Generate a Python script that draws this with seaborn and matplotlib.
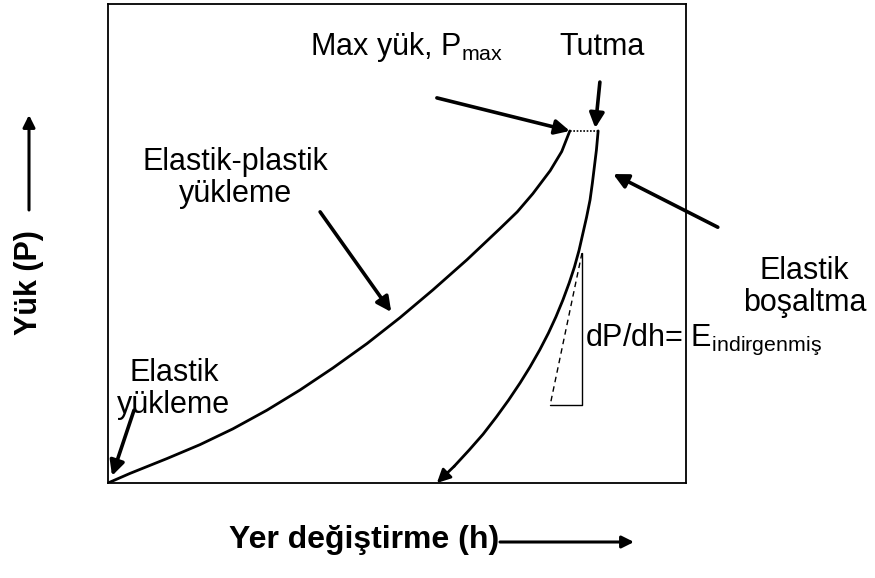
import matplotlib
matplotlib.use("Agg")
import matplotlib.pyplot as plt
from matplotlib.patches import FancyArrowPatch
import seaborn as sns
import pandas as pd

# Load–displacement (P–h) indentation curve, arbitrary units
loading_h = [0.0, 3.8, 10.2, 15.9, 21.6, 27.5, 33.2, 38.9, 44.8, 50.5,
             56.2, 62.1, 67.8, 70.8, 73.5, 76.5, 78.5, 79.9]
loading_P = [0.0, 2.0, 5.1, 8.0, 11.3, 15.2, 19.4, 24.0, 29.1, 34.5,
             40.3, 46.6, 53.1, 56.6, 60.4, 65.2, 69.2, 73.5]

hold_h = [79.9, 84.8]
hold_P = [73.5, 73.5]

unloading_h = [84.8, 84.5, 83.8, 83.4, 82.8, 81.5, 80.7, 79.8, 78.7, 77.5,
               76.2, 74.7, 73.0, 71.3, 69.3, 67.2, 64.9, 62.5, 59.9, 56.9]
unloading_P = [73.5, 69.5, 62.6, 59.1, 55.5, 48.6, 45.1, 41.8, 38.2, 34.7,
               31.3, 27.8, 24.2, 20.9, 17.3, 13.8, 10.2, 6.9, 3.5, 0.0]

# Slope triangle at the top of the unloading curve
tangent_h = [82.0, 76.5]
tangent_P = [48.0, 16.3]
triangle_h = [82.0, 82.0, 76.5]
triangle_P = [48.0, 16.3, 16.3]

sns.set_theme(style="white")
plt.rcParams["font.family"] = ["Liberation Sans", "DejaVu Sans"]
plt.rcParams["mathtext.fontset"] = "custom"
plt.rcParams["mathtext.rm"] = "Liberation Sans"
plt.rcParams["mathtext.it"] = "Liberation Sans"
plt.rcParams["text.color"] = "black"

fig = plt.figure(figsize=(8.75, 5.78), dpi=100)
ax = fig.add_axes([108 / 875, 1 - 483 / 578, 578 / 875, 479 / 578])

load_df = pd.DataFrame({"h": loading_h, "P": loading_P})
unload_df = pd.DataFrame({"h": unloading_h[:-1], "P": unloading_P[:-1]})

line_kw = dict(color="black", lw=2.0, sort=False, estimator=None,
               solid_joinstyle="round", solid_capstyle="round")
sns.lineplot(data=load_df, x="h", y="P", ax=ax, **line_kw)
sns.lineplot(data=unload_df, x="h", y="P", ax=ax, **line_kw)
ax.plot(hold_h, hold_P, color="black", lw=1.2, linestyle=(0, (1, 1)))
ax.plot(tangent_h, tangent_P, color="black", lw=1.0, linestyle=(0, (4, 3)))
ax.plot(triangle_h, triangle_P, color="black", lw=1.0)

# arrowhead at the end of unloading
ax.annotate("", xy=(unloading_h[-1], unloading_P[-1]),
            xytext=(unloading_h[-2], unloading_P[-2]),
            arrowprops=dict(arrowstyle="-|>", color="black", lw=2.0,
                            mutation_scale=20, shrinkA=0, shrinkB=0))

ax.set_xlim(0, 100)
ax.set_ylim(0, 100)
ax.set_xticks([])
ax.set_yticks([])
ax.set_xlabel("")
ax.set_ylabel("")
for s in ax.spines.values():
    s.set_visible(True)
    s.set_color("black")
    s.set_linewidth(1.3)

fs = 22
arrow_kw = dict(arrowstyle="-|>", color="black", lw=2.6, mutation_scale=22,
                shrinkA=0, shrinkB=0)

ax.text(34.9, 91.0, "Max yük, P$_{\\mathregular{max}}$", fontsize=fs,
        ha="left", va="center")
ax.text(85.5, 91.0, "Tutma", fontsize=fs, ha="center", va="center")
ax.text(22.1, 63.7, "Elastik-plastik\nyükleme", fontsize=fs, ha="center",
        va="center", linespacing=1.1)
ax.text(11.4, 19.6, "Elastik\nyükleme", fontsize=fs, ha="center",
        va="center", linespacing=1.1)
ax.text(120.5, 40.9, "Elastik\nboşaltma", fontsize=fs, ha="center",
        va="center", linespacing=1.1, clip_on=False)
ax.text(82.5, 29.9, "dP/dh= E$_{\\mathregular{indirgenmiş}}$", fontsize=fs,
        ha="left", va="center", clip_on=False)

ax.annotate("", xy=(79.9, 73.5), xytext=(56.9, 80.4), arrowprops=arrow_kw)
ax.annotate("", xy=(84.3, 74.1), xytext=(85.1, 83.7), arrowprops=arrow_kw)
ax.annotate("", xy=(49.0, 35.7), xytext=(36.7, 56.6), arrowprops=arrow_kw)
ax.annotate("", xy=(87.4, 64.5), xytext=(105.5, 53.4), arrowprops=arrow_kw,
            annotation_clip=False)
ax.annotate("", xy=(0.7, 1.5), xytext=(4.5, 15.2), arrowprops=arrow_kw)

# axis titles with direction arrows
fig.text(499 / 875, 1 - 540 / 578, "Yer değiştirme (h)", fontsize=23,
         fontweight="bold", ha="right", va="center")
fig.text(29 / 875, 1 - 283 / 578, "Yük (P)", fontsize=22, fontweight="bold",
         ha="center", va="center", rotation=90)
axis_arrow = dict(arrowstyle="-|>", color="black", lw=2.2, mutation_scale=18,
                  shrinkA=0, shrinkB=0)
fig.add_artist(FancyArrowPatch((500 / 875, 1 - 542 / 578),
                               (634 / 875, 1 - 542 / 578),
                               transform=fig.transFigure, **axis_arrow))
fig.add_artist(FancyArrowPatch((29 / 875, 1 - 210 / 578),
                               (29 / 875, 1 - 115 / 578),
                               transform=fig.transFigure, **axis_arrow))

fig.savefig("out.png", dpi=100)
